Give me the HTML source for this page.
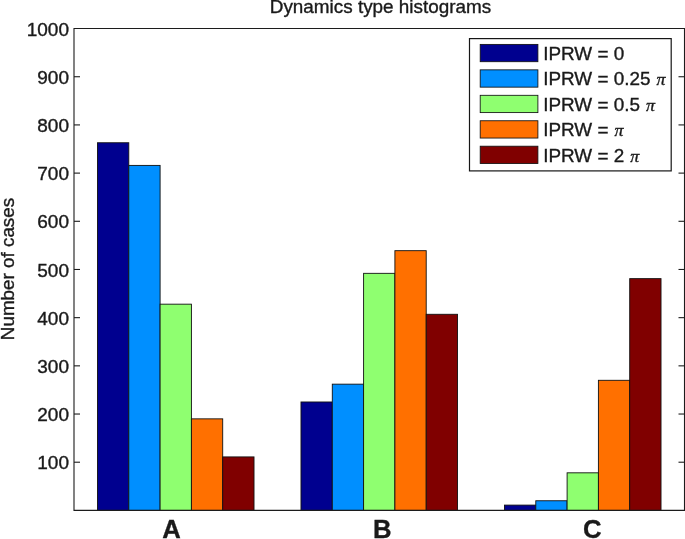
<!DOCTYPE html><html><head><meta charset="utf-8"><title>Dynamics type histograms</title>
<style>html,body{margin:0;padding:0;background:#fff}svg{display:block}text{font-family:"Liberation Sans",Arial,Helvetica,sans-serif;fill:#1a1a1a;stroke:#1a1a1a;stroke-width:0.35px}.pi{font-family:"Liberation Serif","DejaVu Serif",serif;font-style:italic}</style></head><body>
<svg width="685" height="539" viewBox="0 0 685 539">
<rect width="685" height="539" fill="#fff"/>
<rect x="97.48" y="142.75" width="31.31" height="367.65" fill="#00008f" stroke="#111" stroke-width="0.9"/>
<rect x="128.79" y="165.40" width="31.31" height="345.00" fill="#008fff" stroke="#111" stroke-width="0.9"/>
<rect x="160.10" y="304.17" width="31.31" height="206.23" fill="#8fff70" stroke="#111" stroke-width="0.9"/>
<rect x="191.40" y="418.85" width="31.31" height="91.55" fill="#ff7000" stroke="#111" stroke-width="0.9"/>
<rect x="222.71" y="456.91" width="31.31" height="53.49" fill="#800000" stroke="#111" stroke-width="0.9"/>
<rect x="300.98" y="401.98" width="31.31" height="108.42" fill="#00008f" stroke="#111" stroke-width="0.9"/>
<rect x="332.29" y="384.16" width="31.31" height="126.24" fill="#008fff" stroke="#111" stroke-width="0.9"/>
<rect x="363.60" y="273.33" width="31.31" height="237.07" fill="#8fff70" stroke="#111" stroke-width="0.9"/>
<rect x="394.90" y="250.68" width="31.31" height="259.72" fill="#ff7000" stroke="#111" stroke-width="0.9"/>
<rect x="426.21" y="314.29" width="31.31" height="196.11" fill="#800000" stroke="#111" stroke-width="0.9"/>
<rect x="504.48" y="505.10" width="31.31" height="5.30" fill="#00008f" stroke="#111" stroke-width="0.9"/>
<rect x="535.79" y="500.76" width="31.31" height="9.64" fill="#008fff" stroke="#111" stroke-width="0.9"/>
<rect x="567.10" y="472.82" width="31.31" height="37.58" fill="#8fff70" stroke="#111" stroke-width="0.9"/>
<rect x="598.40" y="380.30" width="31.31" height="130.10" fill="#ff7000" stroke="#111" stroke-width="0.9"/>
<rect x="629.71" y="278.63" width="31.31" height="231.77" fill="#800000" stroke="#111" stroke-width="0.9"/>
<path d="M74.0 28.55H684.5V510.4H74.0Z" fill="none" stroke="#1c1c1c" stroke-width="1.1"/>
<line x1="74.0" x2="80.0" y1="462.21" y2="462.21" stroke="#1c1c1c" stroke-width="1.1"/>
<line x1="684.5" x2="678.5" y1="462.21" y2="462.21" stroke="#1c1c1c" stroke-width="1.1"/>
<line x1="74.0" x2="80.0" y1="414.03" y2="414.03" stroke="#1c1c1c" stroke-width="1.1"/>
<line x1="684.5" x2="678.5" y1="414.03" y2="414.03" stroke="#1c1c1c" stroke-width="1.1"/>
<line x1="74.0" x2="80.0" y1="365.85" y2="365.85" stroke="#1c1c1c" stroke-width="1.1"/>
<line x1="684.5" x2="678.5" y1="365.85" y2="365.85" stroke="#1c1c1c" stroke-width="1.1"/>
<line x1="74.0" x2="80.0" y1="317.66" y2="317.66" stroke="#1c1c1c" stroke-width="1.1"/>
<line x1="684.5" x2="678.5" y1="317.66" y2="317.66" stroke="#1c1c1c" stroke-width="1.1"/>
<line x1="74.0" x2="80.0" y1="269.48" y2="269.48" stroke="#1c1c1c" stroke-width="1.1"/>
<line x1="684.5" x2="678.5" y1="269.48" y2="269.48" stroke="#1c1c1c" stroke-width="1.1"/>
<line x1="74.0" x2="80.0" y1="221.29" y2="221.29" stroke="#1c1c1c" stroke-width="1.1"/>
<line x1="684.5" x2="678.5" y1="221.29" y2="221.29" stroke="#1c1c1c" stroke-width="1.1"/>
<line x1="74.0" x2="80.0" y1="173.11" y2="173.11" stroke="#1c1c1c" stroke-width="1.1"/>
<line x1="684.5" x2="678.5" y1="173.11" y2="173.11" stroke="#1c1c1c" stroke-width="1.1"/>
<line x1="74.0" x2="80.0" y1="124.92" y2="124.92" stroke="#1c1c1c" stroke-width="1.1"/>
<line x1="684.5" x2="678.5" y1="124.92" y2="124.92" stroke="#1c1c1c" stroke-width="1.1"/>
<line x1="74.0" x2="80.0" y1="76.74" y2="76.74" stroke="#1c1c1c" stroke-width="1.1"/>
<line x1="684.5" x2="678.5" y1="76.74" y2="76.74" stroke="#1c1c1c" stroke-width="1.1"/>
<text transform="translate(69.00,469.31) scale(1.058,1)" font-size="18" text-anchor="end">100</text>
<text transform="translate(69.00,421.13) scale(1.058,1)" font-size="18" text-anchor="end">200</text>
<text transform="translate(69.00,372.95) scale(1.058,1)" font-size="18" text-anchor="end">300</text>
<text transform="translate(69.00,324.76) scale(1.058,1)" font-size="18" text-anchor="end">400</text>
<text transform="translate(69.00,276.58) scale(1.058,1)" font-size="18" text-anchor="end">500</text>
<text transform="translate(69.00,228.39) scale(1.058,1)" font-size="18" text-anchor="end">600</text>
<text transform="translate(69.00,180.21) scale(1.058,1)" font-size="18" text-anchor="end">700</text>
<text transform="translate(69.00,132.02) scale(1.058,1)" font-size="18" text-anchor="end">800</text>
<text transform="translate(69.00,83.84) scale(1.058,1)" font-size="18" text-anchor="end">900</text>
<text transform="translate(69.00,35.65) scale(1.058,1)" font-size="18" text-anchor="end">1000</text>
<text transform="translate(380.45,13.40) scale(1.05,1)" font-size="18" text-anchor="middle">Dynamics type histograms</text>
<text transform="translate(13.70,269.00) rotate(-90) scale(1.047,1)" font-size="18" text-anchor="middle">Number of cases</text>
<text transform="translate(171.60,538.30) scale(0.98,1)" font-size="26.2" text-anchor="middle" font-weight="bold" stroke="#1a1a1a" stroke-width="0.5">A</text>
<text transform="translate(382.30,538.30) scale(0.98,1)" font-size="26.2" text-anchor="middle" font-weight="bold" stroke="#1a1a1a" stroke-width="0.5">B</text>
<text transform="translate(592.30,538.30) scale(0.98,1)" font-size="26.2" text-anchor="middle" font-weight="bold" stroke="#1a1a1a" stroke-width="0.5">C</text>
<rect x="469.5" y="38.6" width="201.7" height="132.3" fill="#fff" stroke="#161616" stroke-width="1.2"/>
<rect x="480.2" y="44.40" width="57.7" height="17.3" fill="#00008f" stroke="#111" stroke-width="0.85"/>
<text transform="translate(543.20,60.00) scale(1.051,1)" font-size="18" text-anchor="start">IPRW = 0</text>
<rect x="480.2" y="69.85" width="57.7" height="17.3" fill="#008fff" stroke="#111" stroke-width="0.85"/>
<text transform="translate(543.20,85.40) scale(1.051,1)" font-size="18" text-anchor="start">IPRW = 0.25 <tspan class="pi" dx="0.7" font-size="17">π</tspan></text>
<rect x="480.2" y="95.30" width="57.7" height="17.3" fill="#8fff70" stroke="#111" stroke-width="0.85"/>
<text transform="translate(543.20,110.80) scale(1.051,1)" font-size="18" text-anchor="start">IPRW = 0.5 <tspan class="pi" dx="0.7" font-size="17">π</tspan></text>
<rect x="480.2" y="120.75" width="57.7" height="17.3" fill="#ff7000" stroke="#111" stroke-width="0.85"/>
<text transform="translate(543.20,136.20) scale(1.051,1)" font-size="18" text-anchor="start">IPRW = <tspan class="pi" dx="0.7" font-size="17">π</tspan></text>
<rect x="480.2" y="146.20" width="57.7" height="17.3" fill="#800000" stroke="#111" stroke-width="0.85"/>
<text transform="translate(543.20,161.60) scale(1.051,1)" font-size="18" text-anchor="start">IPRW = 2 <tspan class="pi" dx="0.7" font-size="17">π</tspan></text>
</svg></body></html>
